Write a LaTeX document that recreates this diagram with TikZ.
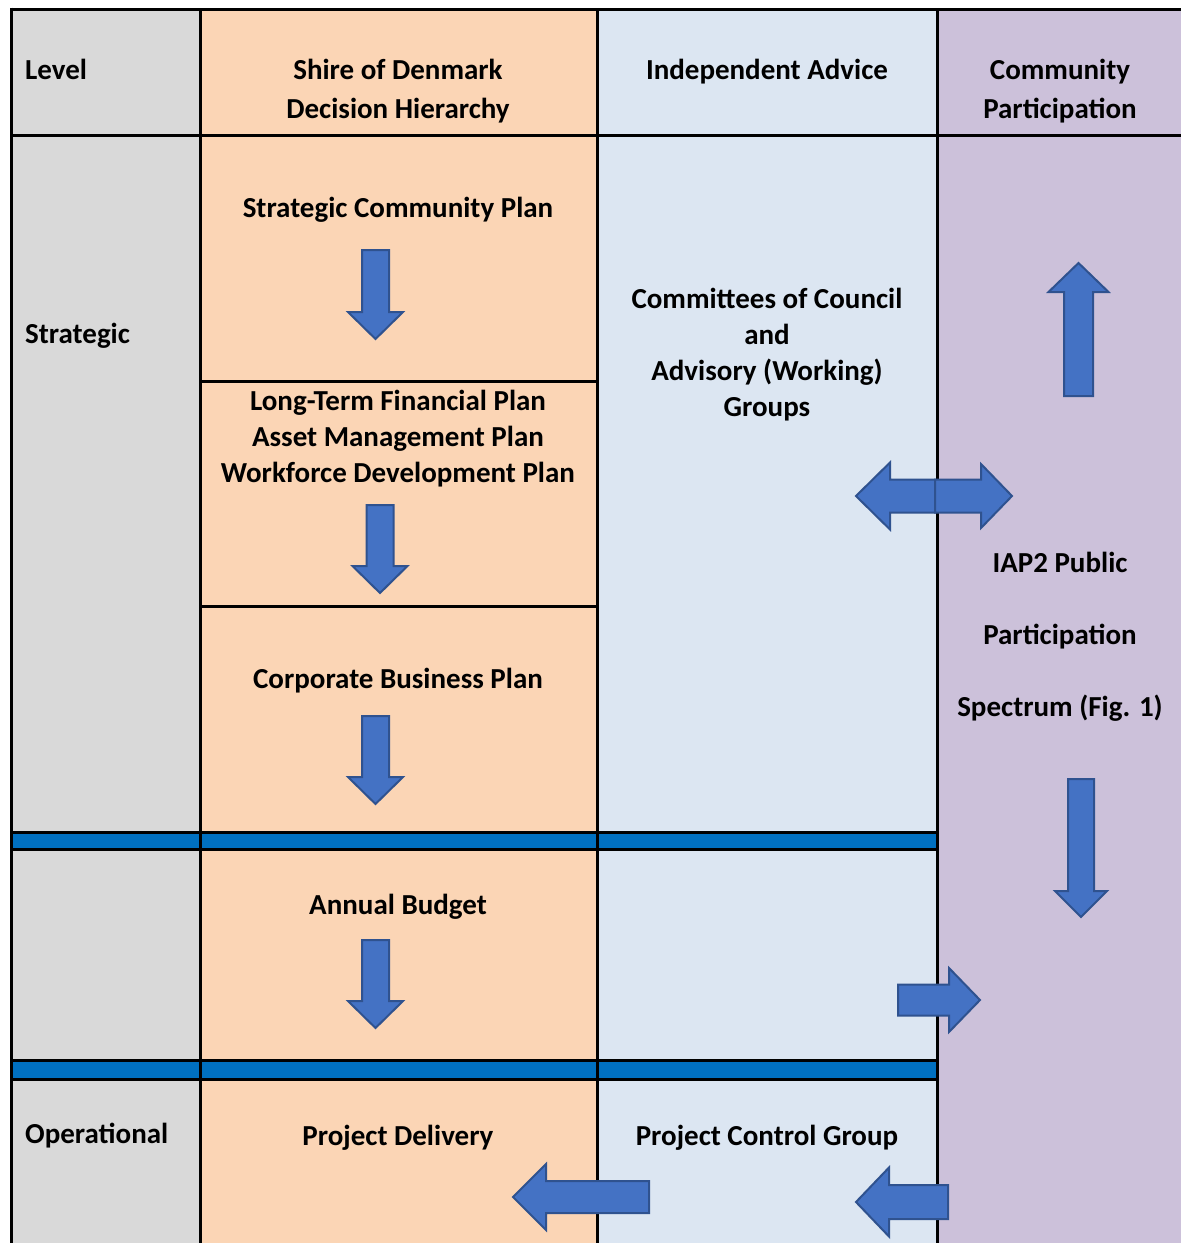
\documentclass[tikz,border=0pt]{standalone}
\usepackage{fontspec}
\setmainfont{Carlito}
\definecolor{cgrey}{HTML}{D9D9D9}
\definecolor{corange}{HTML}{FBD5B5}
\definecolor{clblue}{HTML}{DCE6F2}
\definecolor{cpurple}{HTML}{CCC1DA}
\definecolor{cbar}{HTML}{0070C0}
\definecolor{carrow}{HTML}{4472C4}
\definecolor{carrowd}{HTML}{2F528F}
\newcommand\varr[6]{% cx, shaft end, head base, tip, shaft half width, head half width
  \filldraw[blk] (#1-#5,#2) -- (#1+#5,#2) -- (#1+#5,#3) -- (#1+#6,#3) -- (#1,#4) -- (#1-#6,#3) -- (#1-#5,#3) -- cycle;}
\newcommand\harr[6]{% cy, shaft end, head base, tip, shaft half width, head half width
  \filldraw[blk] (#2,#1-#5) -- (#2,#1+#5) -- (#3,#1+#5) -- (#3,#1+#6) -- (#4,#1) -- (#3,#1-#6) -- (#3,#1-#5) -- cycle;}
\begin{document}
\begin{tikzpicture}[x=1pt,y=-1pt,
  blk/.style={fill=carrow,draw=carrowd,line width=2pt,line join=miter},
  grid/.style={line width=3pt,draw=black},
  lbl/.style={font=\fontsize{29}{36}\selectfont\bfseries,align=center,inner sep=0pt,anchor=center},
  llbl/.style={font=\fontsize{29}{36}\selectfont\bfseries,inner sep=0pt,anchor=west}]
\useasboundingbox (0,0) rectangle (1181,1243);
% column fills
\fill[cgrey] (11,9) rectangle (200,1243);
\fill[corange] (200,9) rectangle (597,1243);
\fill[clblue] (597,9) rectangle (937,1243);
\fill[cpurple] (937,9) rectangle (1181,1243);
% blue bars
\fill[cbar] (11,832) rectangle (937,849);
\fill[cbar] (11,1060) rectangle (937,1079);
% grid lines
\draw[grid] (11,9) -- (1181,9);
\draw[grid] (11,135) -- (1181,135);
\draw[grid] (200,381) -- (597,381);
\draw[grid] (200,606) -- (597,606);
\draw[grid] (11,832) -- (937,832);
\draw[grid] (11,849) -- (937,849);
\draw[grid] (11,1060) -- (937,1060);
\draw[grid] (11,1079) -- (937,1079);
\draw[grid] (11,7.5) -- (11,1243);
\draw[grid] (200,9) -- (200,1243);
\draw[grid] (597,9) -- (597,1243);
\draw[grid] (937,9) -- (937,1243);
% texts
\node[llbl] (hlevel) at (25,69) {Level};
\node[lbl] (hshire) at (398,91) {Shire of Denmark\\[3pt]Decision Hierarchy};
\node[lbl] (hind) at (767,72) {Independent Advice};
\node[lbl] (hcomm) at (1060,91) {Community\\[3pt]Participation};
\node[llbl] (strat) at (25,336) {Strategic};
\node[llbl] (oper) at (25,1136) {Operational};
\node[lbl] (scp) at (398,210) {Strategic Community Plan};
\node[lbl] (ltfp) at (398,439) {Long-Term Financial Plan\\Asset Management Plan\\Workforce Development Plan};
\node[lbl] (cbp) at (398,681) {Corporate Business Plan};
\node[lbl] (ab) at (398,907) {Annual Budget};
\node[lbl] (pd) at (398,1138) {Project Delivery};
\node[lbl] (coc) at (767,355) {Committees of Council\\and\\Advisory (Working)\\Groups};
\node[lbl] (pcg) at (767,1138) {Project Control Group};
\node[lbl] (iap) at (1060,637) {IAP2 Public\\[36pt]Participation\\[36pt]Spectrum (Fig. 1)};
% block arrows
\varr{375.5}{250}{312}{339}{13.5}{27.5}
\varr{380}{505}{566}{593}{13.5}{27.5}
\varr{375.5}{716}{777}{804}{13.5}{27.5}
\varr{375.5}{940}{1001}{1028}{13.5}{27.5}
\varr{1078.5}{396}{292}{263}{14.5}{30}
\varr{1081}{779}{891}{917}{13}{26}
\harr{496}{935}{890}{856}{16.5}{33.5}
\harr{496}{935}{981}{1012}{16.5}{32}
\harr{1000}{898}{949}{980}{15.5}{32}
\harr{1197}{649}{546}{513}{16}{33}
\harr{1202}{948}{889}{856}{17}{34.5}
\end{tikzpicture}
\end{document}
